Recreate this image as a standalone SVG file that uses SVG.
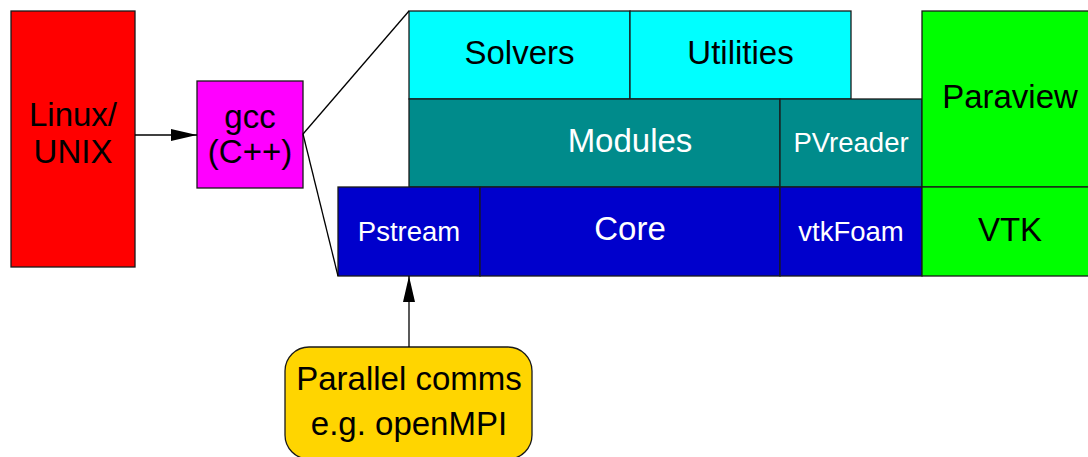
<svg xmlns="http://www.w3.org/2000/svg" width="1088" height="457" viewBox="0 0 1088 457">
<style>
rect{stroke:#1a1a1a;stroke-width:1.3}
text{font-family:"Liberation Sans",Arial,sans-serif;text-anchor:middle}
.b{fill:#000}
.w{fill:#fff}
.l{font-size:33px}
.s{font-size:27.5px}
.c{fill:none;stroke:#000;stroke-width:1.3}
</style>
<defs>
<marker id="ah" viewBox="0 0 26 12" refX="26" refY="6" markerWidth="26" markerHeight="12" markerUnits="userSpaceOnUse" orient="auto">
<path d="M0,0 L26,6 L0,12 Z" fill="#000"/>
</marker>
</defs>
<rect width="1088" height="457" fill="#fff" style="stroke:none"/>
<g id="linux">
<rect x="11" y="11" width="124" height="256" fill="#ff0000"/>
<text class="b l" x="73" y="126">Linux/</text>
<text class="b l" x="73" y="163">UNIX</text>
</g>
<g id="gcc">
<rect x="197" y="81" width="106" height="107" fill="#ff00ff"/>
<text class="b l" x="250" y="128">gcc</text>
<text class="b l" x="250" y="163">(C++)</text>
</g>
<g id="solvers">
<rect x="409" y="11" width="221" height="88" fill="#00ffff"/>
<text class="b l" x="519.5" y="64">Solvers</text>
</g>
<g id="utilities">
<rect x="630" y="11" width="221" height="88" fill="#00ffff"/>
<text class="b l" x="740.5" y="64">Utilities</text>
</g>
<g id="modules">
<rect x="409" y="99" width="371" height="88" fill="#008b8b"/>
<text class="w l" x="630" y="152">Modules</text>
</g>
<g id="pvreader">
<rect x="780" y="99" width="142" height="88" fill="#008b8b"/>
<text class="w s" x="851" y="152">PVreader</text>
</g>
<g id="pstream">
<rect x="338" y="187" width="142" height="89" fill="#0000cc"/>
<text class="w s" x="409" y="241">Pstream</text>
</g>
<g id="core">
<rect x="480" y="187" width="300" height="89" fill="#0000cc"/>
<text class="w l" x="630" y="240">Core</text>
</g>
<g id="vtkfoam">
<rect x="780" y="187" width="142" height="89" fill="#0000cc"/>
<text class="w s" x="851" y="241">vtkFoam</text>
</g>
<g id="paraview">
<rect x="922" y="11" width="176" height="176" fill="#00ff00"/>
<text class="b l" x="1010" y="108">Paraview</text>
</g>
<g id="vtk">
<rect x="922" y="187" width="176" height="89" fill="#00ff00"/>
<text class="b l" x="1010" y="241">VTK</text>
</g>
<g id="parallel">
<rect x="285" y="347" width="247" height="112" rx="24" ry="24" fill="#ffd500"/>
<text class="b l" x="409" y="390">Parallel comms</text>
<text class="b l" x="409" y="435">e.g. openMPI</text>
</g>
<g id="connectors">
<line class="c" x1="135" y1="135" x2="197" y2="135" marker-end="url(#ah)"/>
<line class="c" x1="303" y1="134" x2="409" y2="11"/>
<line class="c" x1="303" y1="134" x2="338" y2="276"/>
<line class="c" x1="409" y1="347" x2="409" y2="276" marker-end="url(#ah)"/>
</g>
</svg>
